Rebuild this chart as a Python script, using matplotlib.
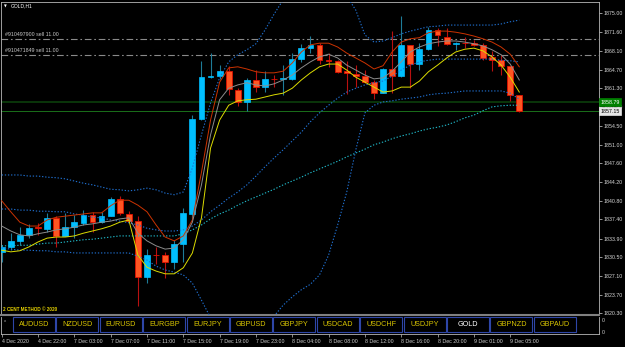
import matplotlib
matplotlib.use("Agg")
import matplotlib.pyplot as plt
import matplotlib.transforms as mtransforms
from matplotlib.patches import Rectangle
import numpy as np

plt.rcParams['font.family'] = ['Liberation Sans', 'DejaVu Sans']

# GOLD H1, one bar per hour from 4 Dec 18:00 to 9 Dec 06:00
opens = [1831.4, 1832.4, 1833.4, 1834.6, 1836.0, 1835.7, 1837.7, 1834.4, 1836.0, 1836.8,
         1838.3, 1836.9, 1838.1, 1841.2, 1838.4, 1837.2, 1827.0, 1831.0, 1830.9, 1829.7,
         1832.9, 1838.4, 1855.7, 1863.3, 1863.5, 1864.5, 1861.0, 1858.7, 1862.8, 1861.5,
         1863.0, 1862.9, 1863.0, 1866.7, 1868.6, 1869.2, 1866.5, 1866.2, 1864.4, 1863.9,
         1863.6, 1862.5, 1860.5, 1864.8, 1863.6, 1869.1, 1865.7, 1868.5, 1871.9, 1870.7,
         1869.3, 1869.6, 1869.6, 1869.1, 1866.9, 1866.5, 1865.3, 1860.1]
highs = [1832.8, 1835.0, 1836.1, 1836.6, 1836.8, 1838.5, 1838.0, 1838.6, 1838.3, 1839.2,
         1838.7, 1838.8, 1841.4, 1841.6, 1838.9, 1838.0, 1832.1, 1832.4, 1831.4, 1833.7,
         1839.5, 1856.5, 1866.3, 1867.8, 1865.6, 1865.3, 1861.4, 1863.2, 1864.7, 1864.4,
         1863.7, 1865.6, 1867.8, 1869.4, 1870.8, 1869.6, 1867.8, 1866.5, 1866.2, 1865.6,
         1864.7, 1862.8, 1865.0, 1871.8, 1874.4, 1869.2, 1869.6, 1872.5, 1872.3, 1872.3,
         1869.8, 1870.7, 1870.1, 1869.5, 1868.0, 1867.4, 1865.4, 1860.1]
lows = [1829.7, 1831.9, 1832.8, 1834.1, 1834.6, 1835.2, 1832.3, 1834.3, 1834.1, 1836.4,
        1835.2, 1836.7, 1838.0, 1838.3, 1837.0, 1821.6, 1825.9, 1829.2, 1826.8, 1828.3,
        1829.6, 1837.4, 1855.6, 1863.2, 1863.0, 1860.1, 1858.1, 1857.1, 1860.7, 1860.7,
        1861.6, 1860.1, 1862.8, 1866.1, 1867.8, 1865.8, 1865.2, 1864.0, 1860.3, 1861.5,
        1862.2, 1859.3, 1860.4, 1860.5, 1863.4, 1861.4, 1864.7, 1868.3, 1868.9, 1869.2,
        1868.3, 1868.6, 1868.9, 1866.5, 1864.4, 1863.7, 1858.9, 1857.0]
closes = [1832.4, 1833.4, 1834.6, 1835.9, 1835.9, 1837.7, 1834.4, 1836.0, 1836.9, 1838.3,
          1836.9, 1838.1, 1841.2, 1838.6, 1837.2, 1827.0, 1831.0, 1830.9, 1829.7, 1833.0,
          1838.5, 1855.7, 1863.4, 1863.5, 1864.5, 1861.1, 1858.7, 1862.8, 1861.5, 1863.0,
          1862.9, 1863.1, 1866.7, 1868.6, 1869.2, 1866.5, 1866.2, 1864.2, 1864.1, 1863.6,
          1862.5, 1860.4, 1864.8, 1863.6, 1869.1, 1865.7, 1868.5, 1871.9, 1870.9, 1869.3,
          1869.6, 1869.5, 1869.2, 1866.8, 1866.5, 1865.3, 1860.1, 1857.1]

# indicator lines
ma_red = [1840.8, 1838.8, 1836.9, 1836.2, 1836.2, 1837.3, 1837.8, 1838.0, 1838.2, 1838.4,
          1838.6, 1838.6, 1839.9, 1840.9, 1840.9, 1840.0, 1838.8, 1836.4, 1834.2, 1833.5,
          1834.4, 1837.3, 1846.0, 1855.5, 1862.4, 1865.0, 1865.2, 1864.8, 1864.3, 1864.1,
          1864.1, 1864.4, 1865.9, 1867.9, 1869.2, 1869.5, 1869.5, 1868.8, 1867.7, 1866.8,
          1865.9, 1864.8, 1865.4, 1867.9, 1869.7, 1870.3, 1870.5, 1871.4, 1871.7, 1871.7,
          1871.5, 1871.2, 1870.8, 1870.3, 1869.7, 1868.8, 1867.5, 1865.2]
ma_gray = [1836.2, 1835.3, 1834.6, 1834.4, 1834.8, 1835.1, 1835.5, 1835.7, 1836.0, 1836.4,
           1836.6, 1836.9, 1837.1, 1837.5, 1837.7, 1834.9, 1833.5, 1832.6, 1832.0, 1832.2,
           1833.7, 1836.9, 1843.7, 1852.8, 1859.2, 1861.3, 1861.9, 1862.3, 1861.9, 1861.7,
           1862.1, 1862.8, 1863.7, 1865.0, 1866.1, 1867.0, 1867.5, 1866.8, 1865.5, 1864.6,
           1863.7, 1863.0, 1863.2, 1864.4, 1866.1, 1867.9, 1868.8, 1869.4, 1869.7, 1869.9,
           1869.9, 1869.7, 1869.4, 1869.0, 1868.3, 1867.4, 1865.7, 1862.8]
ma_yellow = [1831.8, 1831.5, 1831.7, 1832.4, 1833.3, 1834.0, 1834.2, 1834.2, 1834.4, 1834.9,
             1835.3, 1835.7, 1836.2, 1836.9, 1837.3, 1830.9, 1828.7, 1828.0, 1827.5, 1827.5,
             1828.6, 1831.3, 1837.7, 1850.4, 1855.5, 1858.2, 1859.0, 1859.2, 1859.3, 1859.7,
             1860.1, 1860.4, 1861.3, 1862.8, 1864.1, 1865.2, 1865.7, 1865.7, 1864.6, 1863.3,
             1862.4, 1861.5, 1860.6, 1860.8, 1861.5, 1861.5, 1862.6, 1864.3, 1865.5, 1866.8,
             1867.9, 1868.4, 1868.6, 1868.1, 1867.0, 1865.5, 1863.3, 1860.6]
bb_upper = [1845.5, 1845.5, 1845.5, 1845.3, 1845.3, 1845.1, 1845.0, 1844.8, 1844.4, 1844.0,
            1843.7, 1843.3, 1842.9, 1842.8, 1842.6, 1842.8, 1843.1, 1842.8, 1842.2, 1841.9,
            1842.4, 1846.8, 1852.8, 1858.6, 1863.2, 1866.1, 1867.4, 1868.3, 1869.4, 1871.9,
            1874.8, 1877.4, 1879.2, 1880.1, 1880.6, 1880.6, 1880.1, 1879.2, 1878.1, 1875.5,
            1871.0, 1869.7, 1869.9, 1870.5, 1871.2, 1871.7, 1872.1, 1872.5, 1872.6, 1872.8,
            1872.8, 1872.8, 1872.8, 1872.8, 1872.8, 1873.0, 1873.4, 1873.7]
bb_middle = [1839.3, 1839.3, 1839.1, 1839.1, 1838.9, 1838.9, 1838.8, 1838.8, 1838.4, 1838.2,
             1837.8, 1837.7, 1837.3, 1837.1, 1836.8, 1836.4, 1835.8, 1835.5, 1835.3, 1835.3,
             1835.5, 1836.2, 1837.3, 1838.8, 1840.0, 1841.3, 1842.4, 1843.7, 1845.3, 1847.0,
             1848.6, 1850.1, 1851.7, 1853.3, 1855.2, 1856.8, 1858.2, 1859.5, 1860.6, 1861.3,
             1861.9, 1862.3, 1862.6, 1863.5, 1864.6, 1865.5, 1866.1, 1866.4, 1866.6, 1866.6,
             1866.6, 1866.6, 1866.6, 1866.6, 1866.6, 1866.4, 1866.3, 1866.1]
bb_lower = [1832.2, 1832.0, 1831.8, 1831.8, 1831.7, 1831.7, 1831.5, 1831.5, 1831.3, 1831.3,
            1831.3, 1831.3, 1831.3, 1831.3, 1831.3, 1830.7, 1830.0, 1828.9, 1828.2, 1827.8,
            1827.3, 1825.8, 1822.7, 1819.5, 1817.3, 1815.8, 1814.9, 1814.5, 1815.1, 1816.4,
            1819.8, 1821.8, 1823.3, 1824.6, 1825.6, 1827.3, 1830.9, 1836.4, 1842.4, 1850.1,
            1856.8, 1858.2, 1858.8, 1859.0, 1859.3, 1859.5, 1859.7, 1860.1, 1860.3, 1860.4,
            1860.6, 1860.8, 1860.8, 1860.8, 1860.8, 1860.8, 1860.4, 1859.3]
ma_slow = [1832.6, 1832.6, 1832.7, 1832.7, 1832.9, 1833.1, 1833.1, 1833.3, 1833.5, 1833.7,
           1833.8, 1834.0, 1834.2, 1834.4, 1834.4, 1834.4, 1834.4, 1834.4, 1834.4, 1834.4,
           1834.8, 1835.5, 1836.4, 1837.5, 1838.4, 1839.1, 1840.0, 1840.8, 1841.5, 1842.2,
           1842.9, 1843.7, 1844.4, 1845.1, 1845.9, 1846.6, 1847.3, 1848.0, 1848.8, 1849.5,
           1850.2, 1851.0, 1851.5, 1852.1, 1852.6, 1853.0, 1853.5, 1853.9, 1854.2, 1854.6,
           1855.2, 1855.9, 1856.4, 1857.2, 1857.9, 1858.1, 1858.2, 1858.2]

time_ticks = [0, 4, 8, 12, 16, 20, 24, 28, 32, 36, 40, 44, 48, 52, 56]
time_labels = ['4 Dec 2020', '4 Dec 22:00', '7 Dec 03:00', '7 Dec 07:00', '7 Dec 11:00',
               '7 Dec 15:00', '7 Dec 19:00', '7 Dec 23:00', '8 Dec 04:00', '8 Dec 08:00',
               '8 Dec 12:00', '8 Dec 16:00', '8 Dec 20:00', '9 Dec 01:00', '9 Dec 05:00']
price_ticks = [1875.00, 1871.60, 1868.10, 1864.70, 1861.30, 1857.90, 1854.50, 1851.00,
               1847.60, 1844.20, 1840.80, 1837.40, 1833.90, 1830.50, 1827.10, 1823.70, 1820.30]
order_labels = ['#910497900 sell 11.00', '#910471849 sell 11.00']
order_prices = [1870.2, 1867.4]
green_level = 1858.79
bid_price = 1857.15
symbols = ['AUDUSD', 'NZDUSD', 'EURUSD', 'EURGBP', 'EURJPY', 'GBPUSD', 'GBPJPY',
           'USDCAD', 'USDCHF', 'USDJPY', 'GOLD', 'GBPNZD', 'GBPAUD']

W, H = 625, 347
fig = plt.figure(figsize=(W / 100, H / 100), dpi=100, facecolor='black')

# main price window (pixel box 1..599 x 2..315)
ax = fig.add_axes([1 / W, (H - 315) / H, 598 / W, 313 / H], facecolor='black')
ax.set_xlim(-0.077, 65.78)
ax.set_ylim(1820.0, 1877.0)

x = np.arange(len(closes))
o = np.array(opens)
c = np.array(closes)
hi = np.array(highs)
lo = np.array(lows)
up = c >= o

ax.vlines(x[up], lo[up], hi[up], color='#1E7C98', lw=0.8, zorder=2)
ax.vlines(x[~up], lo[~up], hi[~up], color='#B81010', lw=0.8, zorder=2)
ax.bar(x[up], (c - o)[up], bottom=o[up], width=0.64, color='#00BFFF',
       edgecolor='#00BFFF', lw=0.5, zorder=3)
ax.bar(x[~up], (c - o)[~up], bottom=o[~up], width=0.64, color='#FF5522',
       edgecolor='#E01000', lw=0.6, zorder=3)

dots = (0, (1.2, 1.6))
ax.plot(x, bb_upper, color='#2070D0', lw=0.8, ls=dots, zorder=4)
ax.plot(x, bb_middle, color='#2070D0', lw=0.8, ls=dots, zorder=4)
ax.plot(x, bb_lower, color='#2070D0', lw=0.8, ls=dots, zorder=4)
ax.plot(x, ma_slow, color='#20B8C8', lw=0.8, ls=dots, zorder=4)
ax.plot(x, ma_red, color='#CC3300', lw=0.7, zorder=5)
ax.plot(x, ma_gray, color='#8C8C8C', lw=0.7, zorder=5)
ax.plot(x, ma_yellow, color='#DCDC00', lw=0.7, zorder=5)

# open orders and price levels
trans = mtransforms.blended_transform_factory(ax.transAxes, ax.transData)
for lbl, p in zip(order_labels, order_prices):
    ax.axhline(p, color='#8A8A8A', lw=0.8, ls=(0, (6, 2.5, 1.5, 2.5)), zorder=1)
    ax.text(0.007, p + 0.35, lbl, transform=trans, color='#C8C8C8', fontsize=3.8,
            va='bottom', ha='left')
ax.axhline(green_level, color='#0B3A0B', lw=1.3, zorder=1)
ax.axhline(bid_price, color='#1A701A', lw=0.7, zorder=1)

ax.text(0.004, 0.0105, '2 CENT METHOD \u00a9 2020', transform=ax.transAxes, color='#E8D400',
        fontsize=3.3, fontweight='bold', va='bottom', ha='left')

ax.yaxis.tick_right()
ax.set_yticks(price_ticks)
ax.set_yticklabels(['%.2f' % v for v in price_ticks])
ax.tick_params(axis='y', colors='#B0B0B0', labelcolor='#D8D8D8', labelsize=3.8,
               length=2, width=0.6, pad=1)
ax.set_xticks([])
for side in ['top', 'left', 'right']:
    ax.spines[side].set_color('#B8B8B8')
    ax.spines[side].set_linewidth(0.6)
ax.spines['bottom'].set_color('#808080')
ax.spines['bottom'].set_linewidth(1.5)

# price boxes on the scale
fig.text(600.5 / W, 1 - 102 / H, '%.2f' % green_level, color='white', fontsize=3.8,
         va='center', ha='left',
         bbox=dict(boxstyle='square,pad=0.25', fc='#008000', ec='#008000', lw=0.5))
fig.text(600.5 / W, 1 - 111 / H, '%.2f' % bid_price, color='black', fontsize=3.8,
         va='center', ha='left',
         bbox=dict(boxstyle='square,pad=0.25', fc='#E6E6E6', ec='#E6E6E6', lw=0.5))

fig.text(4 / W, 1 - 6 / H, '\u25bc', color='white', fontsize=2.6, va='center', ha='left',
         family=['DejaVu Sans'])
fig.text(11 / W, 1 - 6 / H, 'GOLD,H1', color='white', fontsize=3.6, va='center', ha='left')

# lower window with symbol buttons and the time scale
ax2 = fig.add_axes([1 / W, (H - 334) / H, 598 / W, 17 / H], facecolor='black')
ax2.set_xlim(ax.get_xlim())
ax2.set_ylim(0, 1)
ax2.set_yticks([])
ax2.set_xticks(time_ticks)
ax2.set_xticklabels(time_labels)
for t in ax2.get_xticklabels():
    t.set_ha('left')
ax2.tick_params(axis='x', colors='#A0A0A0', labelcolor='#D0D0D0', labelsize=3.8,
                length=2, width=0.6, pad=1.5)
for side in ['left', 'right', 'bottom']:
    ax2.spines[side].set_color('#B8B8B8')
    ax2.spines[side].set_linewidth(0.6)
ax2.spines['top'].set_visible(False)

for k, name in enumerate(symbols):
    left = 13 + 43.4 * k
    fig.add_artist(Rectangle((left / W, 1 - 332 / H), 42 / W, 15 / H,
                             transform=fig.transFigure, fc='black', ec='#2E46A8', lw=0.8))
    fig.text((left + 21) / W, 1 - 324.5 / H, name, fontsize=5.2, va='center', ha='center',
             color='white' if name == 'GOLD' else '#D8C400')
fig.text(4 / W, 1 - 321 / H, 'x', color='#B0B0B0', fontsize=3.2, va='center', ha='left')
fig.text(602 / W, 1 - 320 / H, '0', color='#D0D0D0', fontsize=3.8, va='center', ha='left')
fig.text(602 / W, 1 - 332 / H, '0', color='#D0D0D0', fontsize=3.8, va='center', ha='left')

fig.savefig('out.png', dpi=100, facecolor='black')
